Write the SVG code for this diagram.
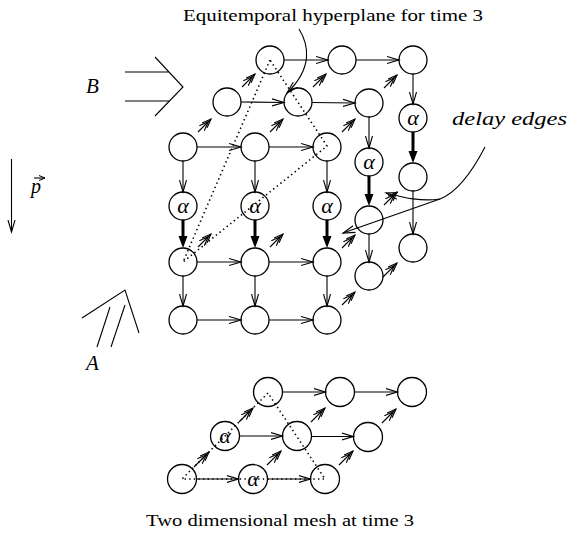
<svg xmlns="http://www.w3.org/2000/svg" width="578" height="538" viewBox="0 0 578 538">
<style>
.n{fill:#fff;stroke:#000;stroke-width:1.3}
.t{stroke:#000;stroke-width:1.1;fill:none;marker-end:url(#open)}
.k{stroke:#000;stroke-width:3;fill:none;marker-end:url(#solid)}
.d{stroke:#000;stroke-width:1.1;fill:none;marker-end:url(#dbl)}
.dot{stroke:#000;stroke-width:1.6;fill:none;stroke-dasharray:1.4 3.2}
.ptr{stroke:#000;stroke-width:1.1;fill:none}
.a{font-family:"Liberation Serif",serif;font-style:italic;font-size:22px;text-anchor:middle}
.lbl{font-family:"Liberation Serif",serif}
</style>
<defs>
<marker id="open" markerWidth="14" markerHeight="9" refX="12" refY="4.5" orient="auto" markerUnits="userSpaceOnUse"><path d="M0,1 L12,4.5 L0,8" fill="none" stroke="#000" stroke-width="1.1"/></marker>
<marker id="dbl" markerWidth="16" markerHeight="10" refX="13" refY="5" orient="auto" markerUnits="userSpaceOnUse"><path d="M0,1.5 L9,5 L0,8.5 M4,1.5 L13,5 L4,8.5" fill="none" stroke="#000" stroke-width="1.1"/></marker>
<marker id="solid" markerWidth="14" markerHeight="10" refX="4" refY="4.5" orient="auto" markerUnits="userSpaceOnUse"><path d="M0,0 L12,4.5 L0,9 Z" fill="#000"/></marker>
<marker id="vec" markerWidth="8" markerHeight="6" refX="6" refY="3" orient="auto" markerUnits="userSpaceOnUse"><path d="M0,0.5 L6,3 L0,5.5" fill="none" stroke="#000" stroke-width="1"/></marker>
</defs>

<g id="nodes">
<g id="n-f11"><circle class="n" cx="183" cy="147" r="14"/></g>
<g id="n-f12"><circle class="n" cx="255" cy="147" r="14"/></g>
<g id="n-f13"><circle class="n" cx="327" cy="147" r="14"/></g>
<g id="n-fa1"><circle class="n" cx="183" cy="206" r="14"/><text class="a" x="183" y="213">α</text></g>
<g id="n-fa2"><circle class="n" cx="255" cy="206" r="14"/><text class="a" x="255" y="213">α</text></g>
<g id="n-fa3"><circle class="n" cx="327" cy="206" r="14"/><text class="a" x="327" y="213">α</text></g>
<g id="n-f21"><circle class="n" cx="183" cy="262" r="14"/></g>
<g id="n-f22"><circle class="n" cx="255" cy="262" r="14"/></g>
<g id="n-f23"><circle class="n" cx="327" cy="262" r="14"/></g>
<g id="n-f31"><circle class="n" cx="183" cy="320" r="14"/></g>
<g id="n-f32"><circle class="n" cx="255" cy="320" r="14"/></g>
<g id="n-f33"><circle class="n" cx="327" cy="320" r="14"/></g>
<g id="n-s11"><circle class="n" cx="227" cy="102" r="14"/></g>
<g id="n-s12"><circle class="n" cx="298" cy="102" r="14"/></g>
<g id="n-s13"><circle class="n" cx="369" cy="103" r="14"/></g>
<g id="n-sa3"><circle class="n" cx="369" cy="162" r="14"/><text class="a" x="369" y="169">α</text></g>
<g id="n-s23"><circle class="n" cx="369" cy="220" r="14"/></g>
<g id="n-s33"><circle class="n" cx="369" cy="276" r="14"/></g>
<g id="n-t11"><circle class="n" cx="270" cy="60" r="14"/></g>
<g id="n-t12"><circle class="n" cx="342" cy="60" r="14"/></g>
<g id="n-t13"><circle class="n" cx="413" cy="60" r="14"/></g>
<g id="n-ta3"><circle class="n" cx="413" cy="118" r="14"/><text class="a" x="413" y="125">α</text></g>
<g id="n-t23"><circle class="n" cx="413" cy="177" r="14"/></g>
<g id="n-t33"><circle class="n" cx="413" cy="248" r="14"/></g>
<g id="m-00"><circle class="n" cx="182" cy="479" r="14.5"/></g>
<g id="m-01"><circle class="n" cx="253" cy="479" r="14.5"/><text class="a" x="253" y="486">α</text></g>
<g id="m-02"><circle class="n" cx="325" cy="479" r="14.5"/></g>
<g id="m-10"><circle class="n" cx="225" cy="436" r="14.5"/><text class="a" x="225" y="443">α</text></g>
<g id="m-11"><circle class="n" cx="297" cy="436" r="14.5"/></g>
<g id="m-12"><circle class="n" cx="368" cy="437" r="14.5"/></g>
<g id="m-20"><circle class="n" cx="268" cy="392" r="14.5"/></g>
<g id="m-21"><circle class="n" cx="340" cy="392" r="14.5"/></g>
<g id="m-22"><circle class="n" cx="412" cy="392" r="14.5"/></g>
</g>

<g id="connectors">
<path class="t" d="M197,147 H241"/><path class="t" d="M269,147 H313"/>
<path class="t" d="M197,262 H241"/><path class="t" d="M269,262 H313"/>
<path class="t" d="M197,320 H241"/><path class="t" d="M269,320 H313"/>
<path class="t" d="M241,102 L284,102.5"/><path class="t" d="M312,102.5 L355,103"/>
<path class="t" d="M284,60 H328"/><path class="t" d="M356,60 H399"/>
<path class="t" d="M183,161 V192"/><path class="t" d="M255,161 V192"/><path class="t" d="M327,161 V192"/>
<path class="k" d="M183,220 V240"/><path class="k" d="M255,220 V240"/><path class="k" d="M327,220 V240"/>
<path class="t" d="M183,276 V306"/><path class="t" d="M255,276 V306"/><path class="t" d="M327,276 V306"/>
<path class="t" d="M369,117 V148"/><path class="k" d="M369,176 V198"/><path class="t" d="M369,234 V262"/>
<path class="t" d="M413,74 V104"/><path class="k" d="M413,132 V155"/><path class="t" d="M413,191 V234"/>
<path class="d" d="M198,132 L211,119"/><path class="d" d="M270,132 L283,119"/><path class="d" d="M342,132 L355,119"/>
<path class="d" d="M242,87 L255,74"/><path class="d" d="M313,87 L326,74"/><path class="d" d="M384,88 L397,75"/>
<path class="d" d="M198,247 L211,234"/><path class="d" d="M270,247 L283,234"/><path class="d" d="M342,248 L355,235"/>
<path class="d" d="M342,305 L355,292"/>
<path class="d" d="M384,205 L397,192"/><path class="d" d="M383,277 L397,263"/>
<path class="t" d="M196.5,479 H238.5"/><path class="t" d="M267.5,479 H310.5"/>
<path class="t" d="M239.5,436 H282.5"/><path class="t" d="M311.5,436.5 H353.5"/>
<path class="t" d="M282.5,392 H325.5"/><path class="t" d="M354.5,392 H397.5"/>
<path class="d" d="M194,467 L209,452"/><path class="d" d="M239,422 L253,408"/>
<path class="d" d="M267,465 L281,451"/><path class="d" d="M311,422 L325,408"/>
<path class="d" d="M339,465 L353,451"/><path class="d" d="M382,423 L396,409"/>
<path class="dot" d="M270,60 L183,262 L327,146 Z"/>
<path class="dot" d="M268,393 L182,479 L325,479 Z"/>
<path class="ptr" d="M299,29 C309,45 313,68 287,93" marker-end="url(#open)"/>
<path class="ptr" d="M485,147 C472,172 458,192 440,199"/>
<path class="ptr" d="M440,199 C420,202 402,197 386,193" marker-end="url(#open)"/>
<path class="ptr" d="M440,199 L343,233" marker-end="url(#open)"/>
<path class="ptr" d="M125,72 H169 M125,101 H169 M155,57 L183,87 L155,116" stroke-width="1.3"/>
<path class="ptr" d="M82,318 L125,290 L139,333 M110,307 L97,347 M125,305 L111,347" stroke-width="1.3"/>
<path class="ptr" d="M11.5,159 V232" marker-end="url(#open)"/>
<path class="ptr" d="M34,178 H45" marker-end="url(#vec)"/>
</g>

<g id="labels">
<text class="lbl" x="183" y="21" font-size="16" textLength="300" lengthAdjust="spacingAndGlyphs">Equitemporal hyperplane for time 3</text>
<text class="lbl" x="452" y="125" font-size="19" font-style="italic" textLength="115" lengthAdjust="spacingAndGlyphs">delay edges</text>
<text class="lbl" x="86" y="93" font-size="21" font-style="italic">B</text>
<text class="lbl" x="86" y="370" font-size="21" font-style="italic">A</text>
<text class="lbl" x="31" y="193" font-size="20" font-style="italic">p</text>
<text class="lbl" x="146" y="526" font-size="16" textLength="268" lengthAdjust="spacingAndGlyphs">Two dimensional mesh at time 3</text>
</g>
</svg>
